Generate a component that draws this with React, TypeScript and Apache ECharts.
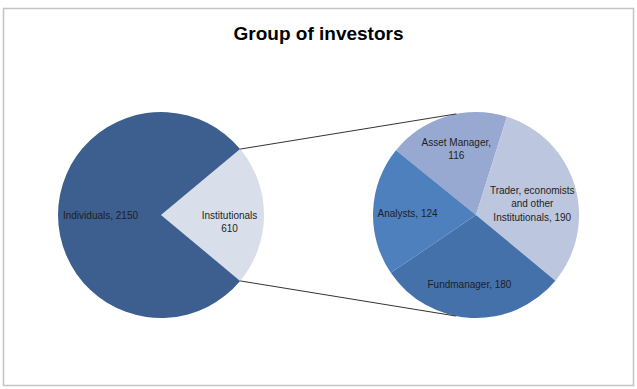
import React, { useEffect, useRef } from "react";
import * as echarts from "echarts";

// ---- data ----
const mainNames = ["Institutionals", "Individuals"];
const mainValues = [610, 2150];
const mainColors = ["#D8DEEA", "#3D5F8F"];

const subNames = ["Asset Manager", "Trader, economists and other Institutionals", "Fundmanager", "Analysts"];
const subValues = [116, 190, 180, 124];
const subColors = ["#97A9D0", "#BCC6DF", "#4571AA", "#4E80BE"];

const titleText = "Group of investors";

// label line formats (how the reference breaks each label)
const mainLabelFmt = (name: string, value: number) =>
  name === "Institutionals" ? `${name}\n${value}` : `${name}, ${value}`;
const subLabelFmt = (name: string, value: number) => {
  if (name === "Asset Manager") return `${name},\n${value}`;
  if (name.startsWith("Trader")) return `Trader, economists\nand other\nInstitutionals, ${value}`;
  return `${name}, ${value}`;
};

const FONT = "'Liberation Sans', Arial, Helvetica, sans-serif";

const mainLabelShift = [
  [14, 7],
  [-6, 0],
];
const subLabelShift = [
  [-4, -14],
  [4, 4],
  [-4, 15],
  [-14, 1],
];

export default function App() {
  const ref = useRef<HTMLDivElement>(null);
  useEffect(() => {
    if (!ref.current) return;
    const chart = echarts.init(ref.current, undefined, { renderer: "svg" });

    const lc = [161, 215];
    const rc = [476, 215];
    const R = 103;
    const total = mainValues.reduce((a, b) => a + b, 0);
    const half = (360 * mainValues[0]) / total / 2;
    const hr = (half * Math.PI) / 180;
    const lx = lc[0] + R * Math.cos(hr);
    const lyTop = lc[1] - R * Math.sin(hr);
    const lyBot = lc[1] + R * Math.sin(hr);
    const ea = (101 * Math.PI) / 180;
    const rx = rc[0] + R * Math.cos(ea);
    const ryTop = rc[1] - R * Math.sin(ea);
    const ryBot = rc[1] + R * Math.sin(ea);

    const labelBase = {
      show: true,
      position: "inside",
      fontFamily: FONT,
      fontSize: 10,
      lineHeight: 13.5,
      color: "#1E1E1E",
      align: "center",
    };

    chart.setOption({
      animation: false,
      title: {
        text: titleText,
        left: "center",
        top: 19,
        textStyle: { fontFamily: FONT, fontWeight: "bold", fontSize: 19, color: "#000" },
      },
      graphic: [
        {
          type: "rect",
          shape: { x: 3.5, y: 8.5, width: 630, height: 377 },
          style: { fill: "none", stroke: "#C4C4C4", lineWidth: 1.5 },
          z: 0,
        },
        {
          type: "line",
          shape: { x1: lx, y1: lyTop, x2: rx, y2: ryTop },
          style: { stroke: "#333", lineWidth: 1 },
          z: 10,
        },
        {
          type: "line",
          shape: { x1: lx, y1: lyBot, x2: rx, y2: ryBot },
          style: { stroke: "#333", lineWidth: 1 },
          z: 10,
        },
      ],
      series: [
        {
          type: "pie",
          center: lc,
          radius: R,
          startAngle: half,
          clockwise: true,
          silent: true,
          label: {
            ...labelBase,
            formatter: (p: any) => mainLabelFmt(p.name, p.value),
          },
          labelLayout: (p: any) => ({ dx: mainLabelShift[p.dataIndex][0], dy: mainLabelShift[p.dataIndex][1] }),
          labelLine: { show: false },
          itemStyle: { borderWidth: 0 },
          emphasis: { disabled: true },
          data: mainNames.map((n, i) => ({ name: n, value: mainValues[i], itemStyle: { color: mainColors[i] } })),
        },
        {
          type: "pie",
          center: rc,
          radius: R,
          startAngle: 141,
          clockwise: true,
          silent: true,
          label: {
            ...labelBase,
            formatter: (p: any) => subLabelFmt(p.name, p.value),
          },
          labelLayout: (p: any) => ({ dx: subLabelShift[p.dataIndex][0], dy: subLabelShift[p.dataIndex][1] }),
          labelLine: { show: false },
          itemStyle: { borderWidth: 0 },
          emphasis: { disabled: true },
          data: subNames.map((n, i) => ({ name: n, value: subValues[i], itemStyle: { color: subColors[i] } })),
        },
      ],
    });
    return () => chart.dispose();
  }, []);
  return (
    <div
      ref={ref}
      style={{ position: "fixed", left: 0, top: 0, width: 637, height: 389, background: "#fff" }}
    />
  );
}
